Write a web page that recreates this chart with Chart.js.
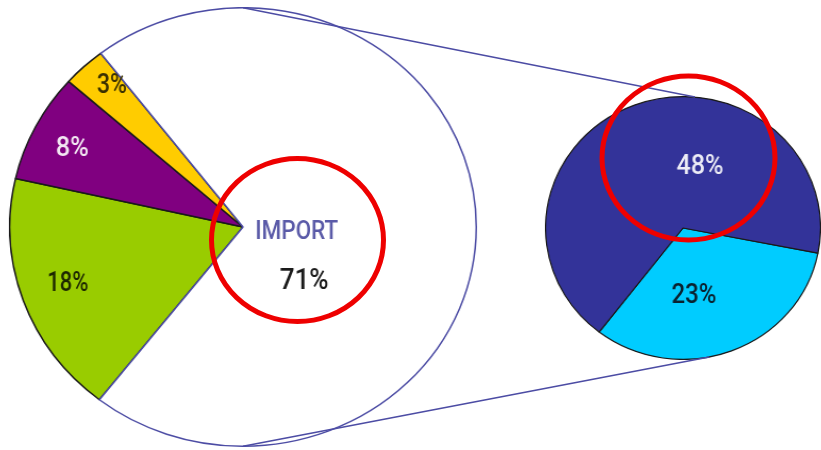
<!DOCTYPE html>
<html>
<head>
<meta charset="utf-8">
<script src="https://cdn.jsdelivr.net/npm/chart.js@4.4.1/dist/chart.umd.min.js"></script>
<style>
html,body{margin:0;padding:0;background:#fff;}
#stage{position:relative;width:821px;height:450px;overflow:hidden;background:#fff;}
.pie{position:absolute;transform-origin:50% 50%;}
.pie canvas{display:block;}
#overlay{position:absolute;left:0;top:0;pointer-events:none;}
</style>
</head>
<body>
<div id="stage">
  <div class="pie" id="leftBox" style="left:23px;top:7px;width:440px;height:440px;transform:scaleX(1.064)">
    <canvas id="leftChart" width="440" height="440"></canvas>
  </div>
  <div class="pie" id="rightBox" style="left:551px;top:96px;width:264px;height:264px;transform:scaleX(1.046)">
    <canvas id="rightChart" width="264" height="264"></canvas>
  </div>
  <canvas id="overlay" width="821" height="450"></canvas>
</div>
<script>
// ---- data ----
const mainLabels = ['', '', '', 'IMPORT'];
const mainValues = [18, 8, 3, 71];
const importLabels = ['', ''];
const importValues = [23, 48];

// ---- styles ----
const mainColors = ['#99cc00', '#800080', '#ffcc00', '#ffffff'];
const mainBorders = ['#1a1a1a', '#1a1a1a', '#1a1a1a', '#4c4ca4'];
const importColors = ['#00ccff', '#333399'];
const FONT = 'Roboto, "DejaVu Sans Condensed", sans-serif';

const sliceLabels = {
  id: 'sliceLabels',
  afterDatasetsDraw(chart, args, opts) {
    const ctx = chart.ctx;
    const meta = chart.getDatasetMeta(0);
    const values = chart.data.datasets[0].data;
    const names = chart.data.labels;
    const drawText = (txt, tx, ty, size, color, width, weight) => {
      ctx.save();
      ctx.font = weight + ' ' + size + 'px ' + FONT;
      const w = ctx.measureText(txt).width;
      const s = width / (w * opts.cssStretch);
      ctx.translate(tx, ty);
      ctx.scale(s, 1);
      ctx.textAlign = 'center';
      ctx.textBaseline = 'alphabetic';
      ctx.fillStyle = color;
      ctx.fillText(txt, 0, size * 0.355);
      ctx.restore();
    };
    meta.data.forEach((arc, i) => {
      const p = arc.getProps(['x', 'y', 'startAngle', 'endAngle', 'outerRadius'], true);
      const mid = (p.startAngle + p.endAngle) / 2 + (opts.angleShift[i] || 0) * Math.PI / 180;
      const r = p.outerRadius * opts.radiusFrac[i];
      const x = p.x + Math.cos(mid) * r;
      const y = p.y + Math.sin(mid) * r;
      if (names[i]) {
        drawText(names[i], x, y + opts.nameDy, opts.nameSize, opts.nameColor, opts.nameWidth, 500);
        drawText(values[i] + '%', x + opts.valueDx, y + opts.valueDy, opts.sizes[i], opts.colors[i], opts.widths[i], 500);
      } else {
        drawText(values[i] + '%', x, y, opts.sizes[i], opts.colors[i], opts.widths[i], 500);
      }
    });
  }
};

const leftChart = new Chart(document.getElementById('leftChart'), {
  type: 'pie',
  data: {
    labels: mainLabels,
    datasets: [{ data: mainValues, backgroundColor: mainColors, borderColor: mainBorders, borderWidth: 1.5 }]
  },
  options: {
    responsive: false,
    animation: false,
    rotation: 218,
    layout: { padding: 0 },
    events: [],
    plugins: {
      legend: { display: false },
      tooltip: { enabled: false },
      sliceLabels: {
        cssStretch: 1.064,
        angleShift: [1.5, -0.5, 2.5, 0],
        radiusFrac: [0.79, 0.82, 0.865, 0.23],
        sizes: [28, 28, 28, 30],
        widths: [41, 33, 30, 49],
        colors: ['#1c2600', '#f2e6f2', '#3a3000', '#1a1a1a'],
        nameDy: 3,
        nameSize: 25,
        nameWidth: 83,
        nameColor: '#5a5aa8',
        valueDx: 7,
        valueDy: 51
      }
    }
  },
  plugins: [sliceLabels]
});

const rightChart = new Chart(document.getElementById('rightChart'), {
  type: 'pie',
  data: {
    labels: importLabels,
    datasets: [{ data: importValues, backgroundColor: importColors, borderColor: '#1a1a1a', borderWidth: 1.2 }]
  },
  options: {
    responsive: false,
    animation: false,
    rotation: 101,
    layout: { padding: 0 },
    events: [],
    plugins: {
      legend: { display: false },
      tooltip: { enabled: false },
      sliceLabels: {
        cssStretch: 1.046,
        angleShift: [11.5, 35],
        radiusFrac: [0.5, 0.5],
        sizes: [28, 28],
        widths: [45, 47],
        colors: ['#0a2230', '#ececf6'],
        nameDy: 0, nameSize: 0, nameWidth: 0, nameColor: '#000', valueDx: 0, valueDy: 0
      }
    }
  },
  plugins: [sliceLabels]
});

// ---- overlay: connector lines + red highlight rings ----
function pageGeom(chart, box) {
  const arc = chart.getDatasetMeta(0).data[0];
  const rect = box.getBoundingClientRect();
  const st = document.getElementById('stage').getBoundingClientRect();
  const sx = rect.width / chart.width;
  return {
    cx: rect.left - st.left + arc.x * sx,
    cy: rect.top - st.top + arc.y,
    rx: arc.outerRadius * sx,
    ry: arc.outerRadius
  };
}
function drawOverlay() {
  const L = pageGeom(leftChart, document.getElementById('leftBox'));
  const R = pageGeom(rightChart, document.getElementById('rightBox'));
  const o = document.getElementById('overlay').getContext('2d');
  o.clearRect(0, 0, 821, 450);
  const pt = (g, deg) => [g.cx + g.rx * Math.cos(deg * Math.PI / 180), g.cy + g.ry * Math.sin(deg * Math.PI / 180)];
  o.strokeStyle = '#4c4ca4';
  o.lineWidth = 1.5;
  const a1 = pt(L, -90), b1 = pt(R, -85);
  const a2 = pt(L, 90), b2 = pt(R, 79);
  o.beginPath(); o.moveTo(a1[0], a1[1]); o.lineTo(b1[0], b1[1]); o.stroke();
  o.beginPath(); o.moveTo(a2[0], a2[1]); o.lineTo(b2[0], b2[1]); o.stroke();

  o.strokeStyle = '#ee0000';
  o.lineWidth = 5;
  o.beginPath(); o.ellipse(L.cx + 54.5, L.cy + 13, 86, 81.5, 0, 0, Math.PI * 2); o.stroke();
  o.beginPath(); o.ellipse(R.cx + 5.5, R.cy - 70, 86.5, 82, 0, 0, Math.PI * 2); o.stroke();
}
drawOverlay();
</script>
</body>
</html>
